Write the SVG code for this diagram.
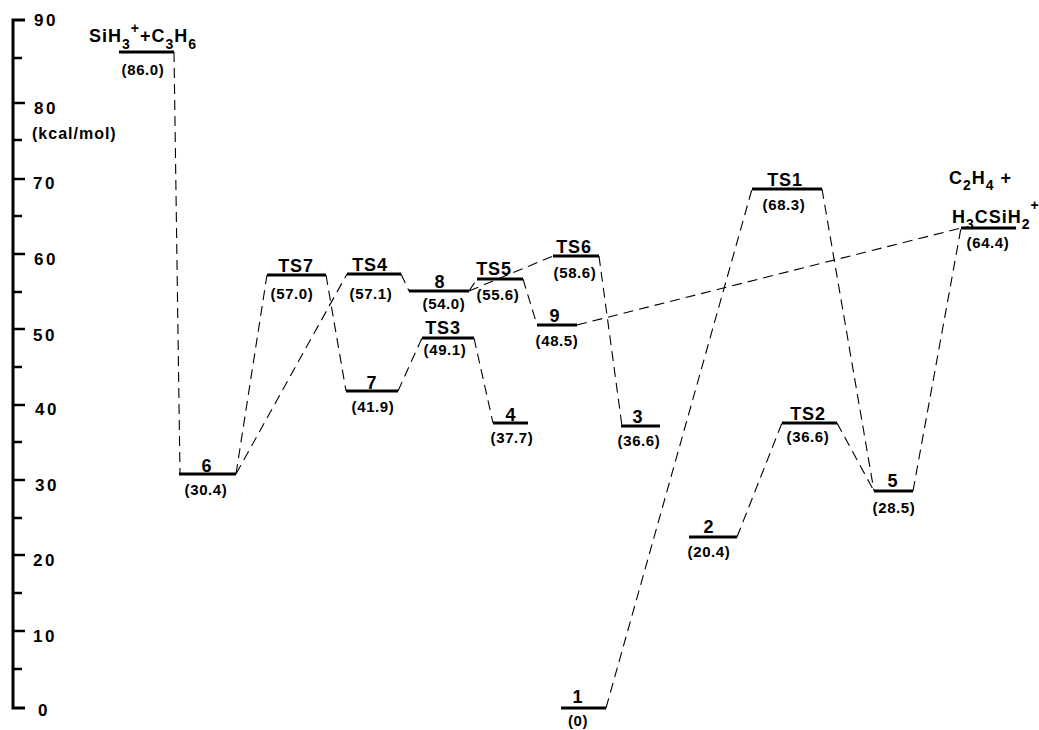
<svg xmlns="http://www.w3.org/2000/svg" width="1039" height="730" viewBox="0 0 1039 730">
<style>
text{font-family:"Liberation Sans",Arial,sans-serif;font-weight:bold;fill:#000}
.ax{font-size:17px;letter-spacing:2.5px}
.unit{font-size:16px;letter-spacing:1px}
.nm{font-size:18px;letter-spacing:0.8px;text-anchor:middle}
.val{font-size:15px;letter-spacing:0.6px;text-anchor:middle}
.sp{font-size:18px;letter-spacing:1px}
.sb{font-size:14px}
.lvl{stroke:#000;stroke-width:3;fill:none}
.axis line,.axis path{stroke:#000;fill:none}
.conn line{stroke:#000;stroke-width:1.1;stroke-dasharray:10 6;fill:none}
</style>
<rect width="1039" height="730" fill="#fff"/>
<g id="axis" class="axis">
<path d="M25 20 H13 V708 H25" stroke-width="3"/>
<g stroke-width="2.5">
<line x1="13" y1="103" x2="25" y2="103"/>
<line x1="13" y1="179" x2="25" y2="179"/>
<line x1="13" y1="254" x2="25" y2="254"/>
<line x1="13" y1="329" x2="25" y2="329"/>
<line x1="13" y1="405" x2="25" y2="405"/>
<line x1="13" y1="480" x2="25" y2="480"/>
<line x1="13" y1="555" x2="25" y2="555"/>
<line x1="13" y1="631" x2="25" y2="631"/>
<line x1="13" y1="58" x2="22" y2="58"/>
<line x1="13" y1="140" x2="22" y2="140"/>
<line x1="13" y1="216" x2="22" y2="216"/>
<line x1="13" y1="292" x2="22" y2="292"/>
<line x1="13" y1="367" x2="22" y2="367"/>
<line x1="13" y1="442" x2="22" y2="442"/>
<line x1="13" y1="518" x2="22" y2="518"/>
<line x1="13" y1="593" x2="22" y2="593"/>
<line x1="13" y1="669" x2="22" y2="669"/>
</g>
<text class="ax" x="34" y="26">90</text>
<text class="ax" x="34" y="114">80</text>
<text class="ax" x="33" y="189">70</text>
<text class="ax" x="34" y="265">60</text>
<text class="ax" x="33" y="341">50</text>
<text class="ax" x="35" y="415">40</text>
<text class="ax" x="35" y="491">30</text>
<text class="ax" x="33" y="566">20</text>
<text class="ax" x="33" y="642">10</text>
<text class="ax" x="38" y="716">0</text>
<text class="unit" x="32" y="139">(kcal/mol)</text>
</g>
<g id="connectors" class="conn">
<line x1="174" y1="52" x2="180" y2="474"/>
<line x1="236" y1="474" x2="267" y2="275"/>
<line x1="236" y1="474" x2="347" y2="274"/>
<line x1="326" y1="275" x2="346" y2="391"/>
<line x1="401" y1="274" x2="409" y2="291"/>
<line x1="398" y1="391" x2="422" y2="338"/>
<line x1="469" y1="291" x2="477" y2="279"/>
<line x1="469" y1="291" x2="553" y2="256"/>
<line x1="474" y1="338" x2="493" y2="423"/>
<line x1="523" y1="279" x2="537" y2="325"/>
<line x1="599" y1="256" x2="622" y2="426"/>
<line x1="577" y1="325" x2="961" y2="228"/>
<line x1="606" y1="708" x2="752" y2="189"/>
<line x1="822" y1="189" x2="874" y2="491"/>
<line x1="737" y1="537" x2="782" y2="423"/>
<line x1="837" y1="423" x2="874" y2="491"/>
<line x1="913" y1="491" x2="961" y2="228"/>
</g>
<g id="reactants">
<line class="lvl" x1="119" y1="52" x2="174" y2="52"/>
<text class="sp" x="89" y="42">SiH<tspan class="sb" dy="7">3</tspan><tspan class="sb" dy="-16">+</tspan><tspan dy="9">+C</tspan><tspan class="sb" dy="7">3</tspan><tspan dy="-7">H</tspan><tspan class="sb" dy="7">6</tspan></text>
<text class="val" x="143" y="75">(86.0)</text>
</g>
<g id="n6">
<line class="lvl" x1="179" y1="474" x2="236" y2="474"/>
<text class="nm" x="207" y="472">6</text>
<text class="val" x="206" y="495">(30.4)</text>
</g>
<g id="TS7">
<line class="lvl" x1="267" y1="275" x2="326" y2="275"/>
<text class="nm" x="296" y="272">TS7</text>
<text class="val" x="292" y="299">(57.0)</text>
</g>
<g id="TS4">
<line class="lvl" x1="347" y1="274" x2="401" y2="274"/>
<text class="nm" x="370" y="271">TS4</text>
<text class="val" x="371" y="299">(57.1)</text>
</g>
<g id="n7">
<line class="lvl" x1="346" y1="391" x2="398" y2="391"/>
<text class="nm" x="372" y="389">7</text>
<text class="val" x="373" y="412">(41.9)</text>
</g>
<g id="n8">
<line class="lvl" x1="409" y1="291" x2="469" y2="291"/>
<text class="nm" x="440" y="288">8</text>
<text class="val" x="444" y="309">(54.0)</text>
</g>
<g id="TS3">
<line class="lvl" x1="422" y1="338" x2="474" y2="338"/>
<text class="nm" x="443" y="334">TS3</text>
<text class="val" x="445" y="355">(49.1)</text>
</g>
<g id="TS5">
<line class="lvl" x1="477" y1="279" x2="523" y2="279"/>
<text class="nm" x="494" y="275">TS5</text>
<text class="val" x="498" y="300">(55.6)</text>
</g>
<g id="n4">
<line class="lvl" x1="493" y1="423" x2="528" y2="423"/>
<text class="nm" x="511" y="421">4</text>
<text class="val" x="512" y="443">(37.7)</text>
</g>
<g id="TS6">
<line class="lvl" x1="553" y1="256" x2="599" y2="256"/>
<text class="nm" x="574" y="253">TS6</text>
<text class="val" x="575" y="278">(58.6)</text>
</g>
<g id="n9">
<line class="lvl" x1="537" y1="325" x2="577" y2="325"/>
<text class="nm" x="555" y="322">9</text>
<text class="val" x="557" y="346">(48.5)</text>
</g>
<g id="n3">
<line class="lvl" x1="621" y1="426" x2="660" y2="426"/>
<text class="nm" x="638" y="423">3</text>
<text class="val" x="639" y="446">(36.6)</text>
</g>
<g id="n1">
<line class="lvl" x1="561" y1="708" x2="606" y2="708"/>
<text class="nm" x="578" y="703">1</text>
<text class="val" x="578" y="726">(0)</text>
</g>
<g id="TS1">
<line class="lvl" x1="752" y1="189" x2="822" y2="189"/>
<text class="nm" x="785" y="186">TS1</text>
<text class="val" x="784" y="210">(68.3)</text>
</g>
<g id="n2">
<line class="lvl" x1="689" y1="537" x2="737" y2="537"/>
<text class="nm" x="709" y="533">2</text>
<text class="val" x="709" y="557">(20.4)</text>
</g>
<g id="TS2">
<line class="lvl" x1="782" y1="423" x2="837" y2="423"/>
<text class="nm" x="808" y="420">TS2</text>
<text class="val" x="808" y="442">(36.6)</text>
</g>
<g id="n5">
<line class="lvl" x1="874" y1="491" x2="913" y2="491"/>
<text class="nm" x="893" y="487">5</text>
<text class="val" x="894" y="513">(28.5)</text>
</g>
<g id="products">
<line class="lvl" x1="961" y1="228" x2="1016" y2="228"/>
<text class="sp" x="949" y="184">C<tspan class="sb" dy="6">2</tspan><tspan dy="-6">H</tspan><tspan class="sb" dy="6">4</tspan><tspan dy="-6"> +</tspan></text>
<text class="sp" x="952" y="223">H<tspan class="sb" dy="6">3</tspan><tspan dy="-6">CSiH</tspan><tspan class="sb" dy="6">2</tspan><tspan class="sb" dy="-19">+</tspan></text>
<text class="val" x="988" y="248">(64.4)</text>
</g>
</svg>
